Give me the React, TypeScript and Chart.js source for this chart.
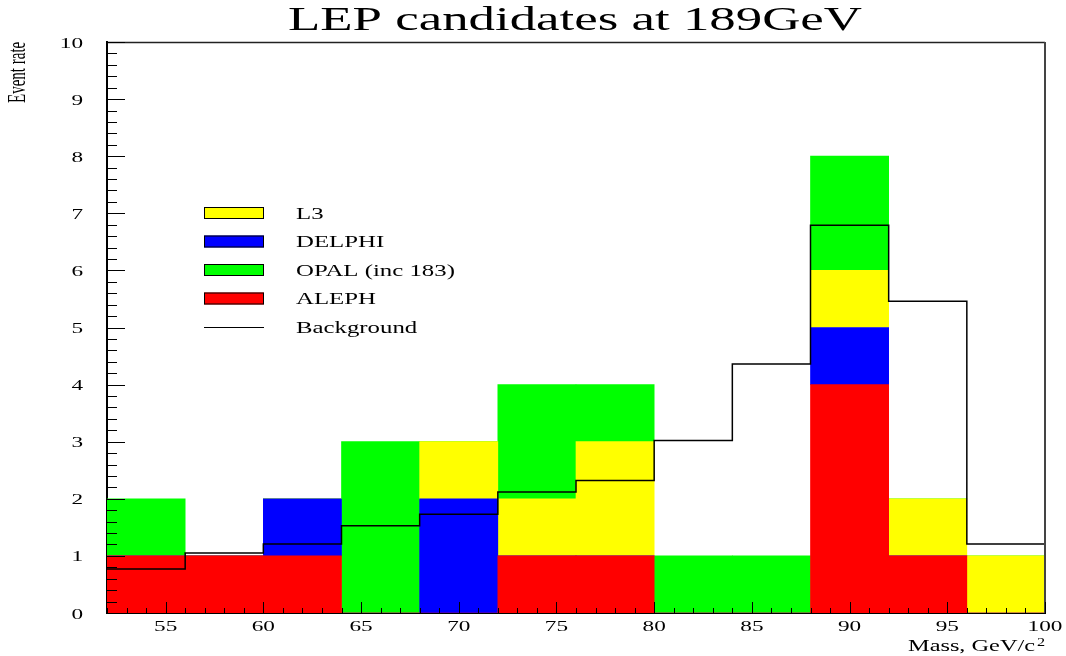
import React, { useEffect, useRef } from 'react';
import { Chart, registerables } from 'chart.js';

Chart.register(...registerables);

// ---- data ----
const BIN_LOW = [52, 56, 60, 64, 68, 72, 76, 80, 84, 88, 92, 96];
const BIN_WIDTH = 4;
const ALEPH = [1, 1, 1, 0, 0, 1, 1, 0, 0, 4, 1, 0];
const DELPHI = [0, 0, 1, 0, 2, 0, 0, 0, 0, 1, 0, 0];
const L3 = [0, 0, 0, 0, 1, 1, 2, 0, 0, 1, 1, 1];
const OPAL = [1, 0, 0, 3, 0, 2, 1, 1, 1, 2, 0, 0];
const BACKGROUND = [0.77, 1.05, 1.21, 1.53, 1.73, 2.12, 2.32, 3.02, 4.36, 6.79, 5.46, 1.21];
const X_TICKS = [55, 60, 65, 70, 75, 80, 85, 90, 95, 100];
const Y_TICKS = [0, 1, 2, 3, 4, 5, 6, 7, 8, 9, 10];
const X_MIN = 52;
const X_MAX = 100;
const Y_MIN = 0;
const Y_MAX = 10;
const TITLE = 'LEP candidates at 189GeV';
const X_TITLE = 'Mass, GeV/c';
const X_TITLE_SUP = '2';
const Y_TITLE = 'Event rate';
const LEGEND = [
  { label: 'L3', color: '#ffff00', kind: 'box' },
  { label: 'DELPHI', color: '#0000ff', kind: 'box' },
  { label: 'OPAL (inc 183)', color: '#00ff00', kind: 'box' },
  { label: 'ALEPH', color: '#ff0000', kind: 'box' },
  { label: 'Background', color: '#000000', kind: 'line' },
];

const SX = 1.55;
const FONT = '"Liberation Serif", "Times New Roman", serif';

function stretchText(
  ctx: CanvasRenderingContext2D,
  text: string,
  x: number,
  y: number,
  size: number,
  align: CanvasTextAlign,
  opts: { sx?: number; width?: number } = {}
) {
  ctx.save();
  ctx.font = `${size}px ${FONT}`;
  let sx = opts.sx ?? SX;
  if (opts.width) sx = opts.width / ctx.measureText(text).width;
  ctx.translate(x, y);
  ctx.scale(sx, 1);
  ctx.textAlign = align;
  ctx.textBaseline = 'alphabetic';
  ctx.fillStyle = '#000';
  ctx.fillText(text, 0, 0);
  ctx.restore();
}

const decorPlugin = {
  id: 'decor',
  afterDraw(chart: any) {
    const ctx: CanvasRenderingContext2D = chart.ctx;
    const { left, right, top, bottom } = chart.chartArea;
    const xs = chart.scales.x;
    const ys = chart.scales.y;
    ctx.save();

    // frame top and right
    ctx.strokeStyle = '#222';
    ctx.lineWidth = 1.5;
    ctx.beginPath();
    ctx.moveTo(left, top + 0.5);
    ctx.lineTo(right, top + 0.5);
    ctx.stroke();
    ctx.strokeStyle = '#444';
    ctx.lineWidth = 2;
    ctx.beginPath();
    ctx.moveTo(right, top);
    ctx.lineTo(right, bottom);
    ctx.stroke();

    // y tick marks (major + 4 minor)
    ctx.strokeStyle = '#000';
    ctx.lineWidth = 1;
    for (let i = 0; i <= (Y_MAX - Y_MIN) * 5; i++) {
      const v = Y_MIN + i * 0.2;
      const py = Math.round(ys.getPixelForValue(v)) + 0.5;
      const len = i % 5 === 0 ? 18 : 10;
      ctx.beginPath();
      ctx.moveTo(left, py);
      ctx.lineTo(left + len, py);
      ctx.stroke();
    }
    // x tick marks (every unit, major every 5)
    for (let v = X_MIN; v <= X_MAX; v++) {
      const px = Math.round(xs.getPixelForValue(v)) + 0.5;
      const len = v % 5 === 0 ? 11 : 5;
      ctx.beginPath();
      ctx.moveTo(px, bottom);
      ctx.lineTo(px, bottom - len);
      ctx.stroke();
    }

    // tick labels
    Y_TICKS.forEach((v) => {
      stretchText(ctx, String(v), 83, ys.getPixelForValue(v) + 5.5, 15, 'right');
    });
    X_TICKS.forEach((v) => {
      stretchText(ctx, String(v), xs.getPixelForValue(v), 630.5, 15, 'center');
    });

    // title
    stretchText(ctx, TITLE, 575, 30, 33, 'center', { width: 574 });

    // x axis title
    stretchText(ctx, X_TITLE, 1035, 650.5, 16, 'right', { width: 127 });
    stretchText(ctx, X_TITLE_SUP, 1037, 646, 12, 'left', { sx: 1.35 });

    // y axis title (rotated)
    ctx.save();
    ctx.font = `15px ${FONT}`;
    ctx.translate(25, 103);
    ctx.scale(1.7, 1);
    ctx.rotate(-Math.PI / 2);
    ctx.textAlign = 'left';
    ctx.textBaseline = 'alphabetic';
    ctx.fillStyle = '#000';
    ctx.fillText(Y_TITLE, 0, 0);
    ctx.restore();

    // legend
    const rowY = [213, 241.5, 270, 298.5, 327];
    LEGEND.forEach((item, i) => {
      const cy = rowY[i];
      if (item.kind === 'box') {
        ctx.fillStyle = item.color;
        ctx.fillRect(204, cy - 6, 60, 12);
        ctx.strokeStyle = '#000';
        ctx.lineWidth = 1;
        ctx.strokeRect(204.5, cy - 5.5, 59, 11);
      } else {
        ctx.strokeStyle = item.color;
        ctx.lineWidth = 1;
        ctx.beginPath();
        ctx.moveTo(204, Math.round(cy) + 0.5);
        ctx.lineTo(264, Math.round(cy) + 0.5);
        ctx.stroke();
      }
      stretchText(ctx, item.label, 296, cy + 5.5, 16, 'left');
    });

    ctx.restore();
  },
};

export default function App() {
  const canvasRef = useRef<HTMLCanvasElement | null>(null);

  useEffect(() => {
    document.body.style.margin = '0';
    const canvas = canvasRef.current;
    if (!canvas) return;
    const toPoints = (arr: number[]) =>
      arr.map((v, i) => ({ x: BIN_LOW[i] + BIN_WIDTH / 2, y: v }));
    const bgPoints = BACKGROUND.map((v, i) => ({ x: BIN_LOW[i], y: v }));
    bgPoints.push({
      x: BIN_LOW[BIN_LOW.length - 1] + BIN_WIDTH,
      y: BACKGROUND[BACKGROUND.length - 1],
    });

    const barCommon = {
      type: 'bar' as const,
      stack: 'detectors',
      order: 1,
      borderWidth: 0,
      barPercentage: 1,
      categoryPercentage: 1,
    };

    const chart = new Chart(canvas, {
      type: 'bar',
      data: {
        datasets: [
          { ...barCommon, label: 'ALEPH', data: toPoints(ALEPH), backgroundColor: '#ff0000' },
          { ...barCommon, label: 'DELPHI', data: toPoints(DELPHI), backgroundColor: '#0000ff' },
          { ...barCommon, label: 'L3', data: toPoints(L3), backgroundColor: '#ffff00' },
          { ...barCommon, label: 'OPAL (inc 183)', data: toPoints(OPAL), backgroundColor: '#00ff00' },
          {
            type: 'line' as const,
            label: 'Background',
            data: bgPoints,
            stack: 'background',
            order: 0,
            stepped: true,
            borderColor: '#000',
            borderWidth: 1.5,
            pointRadius: 0,
            fill: false,
          },
        ] as any,
      },
      options: {
        responsive: false,
        devicePixelRatio: 1,
        animation: false,
        layout: { padding: { top: 42, right: 21, left: 0, bottom: 0 } },
        plugins: {
          legend: { display: false },
          title: { display: false },
          tooltip: { enabled: false },
        },
        scales: {
          x: {
            type: 'linear',
            min: X_MIN,
            max: X_MAX,
            stacked: true,
            offset: false,
            grid: { display: false },
            border: { display: true, color: '#000', width: 2 },
            ticks: { display: false },
            afterBuildTicks: (s: any) => {
              s.ticks = X_TICKS.map((v) => ({ value: v }));
            },
            afterFit: (s: any) => {
              s.height = 43;
            },
          },
          y: {
            type: 'linear',
            min: Y_MIN,
            max: Y_MAX,
            stacked: true,
            grid: { display: false },
            border: { display: true, color: '#000', width: 2 },
            ticks: { display: false },
            afterBuildTicks: (s: any) => {
              s.ticks = Y_TICKS.map((v) => ({ value: v }));
            },
            afterFit: (s: any) => {
              s.width = 107;
            },
          },
        },
      } as any,
      plugins: [decorPlugin],
    });
    return () => chart.destroy();
  }, []);

  return (
    <div style={{ position: 'absolute', left: 0, top: 0, width: 1066, height: 656, background: '#fff' }}>
      <canvas ref={canvasRef} width={1066} height={656} style={{ display: 'block' }} />
    </div>
  );
}
